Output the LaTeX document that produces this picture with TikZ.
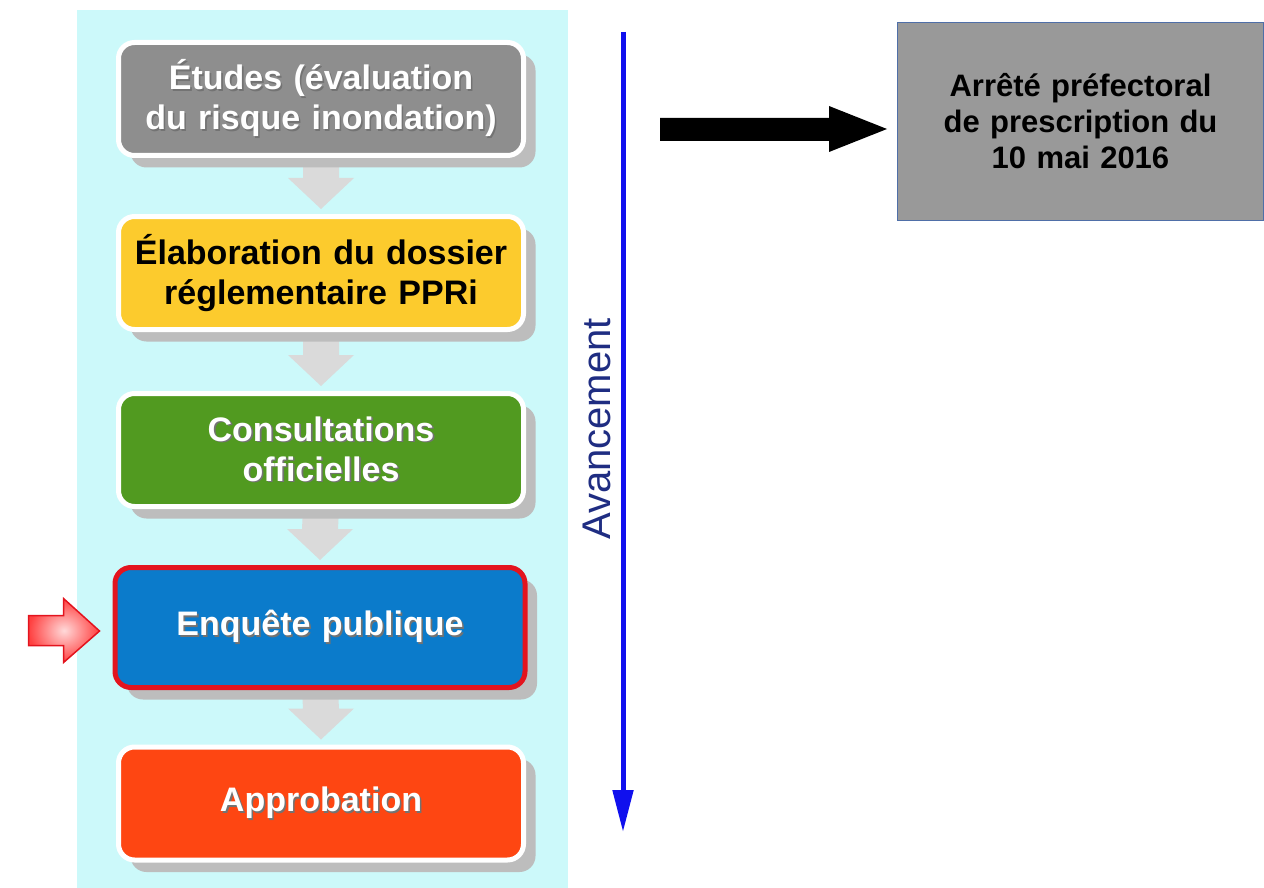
\documentclass[tikz,border=0pt]{standalone}
\usepackage{fontspec}
\setmainfont{Liberation Sans}
\usetikzlibrary{calc,shadows,arrows.meta}
\definecolor{panel}{HTML}{CCF9FA}
\definecolor{shadowgray}{HTML}{BDBDBD}
\definecolor{arrgray}{HTML}{DADADA}
\definecolor{cgray}{HTML}{8E8E8E}
\definecolor{cyellow}{HTML}{FCCB2D}
\definecolor{cgreen}{HTML}{519A20}
\definecolor{cblue}{HTML}{0B7BCB}
\definecolor{cred}{HTML}{E3141E}
\definecolor{corange}{HTML}{FE4612}
\definecolor{rbox}{HTML}{999999}
\definecolor{rboxline}{HTML}{4F6FA8}
\definecolor{bline}{HTML}{1010EE}
\definecolor{navy}{HTML}{1F2D82}
\newcommand\shtxt[1]{\leavevmode\rlap{\kern1.6pt\raisebox{-1.6pt}{\color{black!55}#1}}#1}
\pgfdeclarelayer{bg}
\pgfsetlayers{bg,main}
\begin{document}
\begin{tikzpicture}[x=1pt,y=-1pt,
  stepbox/.style={rounded corners=16pt, minimum width=405pt, minimum height=113pt,
    line width=5pt, draw=white, text width=400pt, align=center, inner sep=0pt,
    font=\bfseries\fontsize{34}{40}\selectfont,
    drop shadow={shadow xshift=12pt, shadow yshift=-12pt, fill=shadowgray, opacity=1}},
  downarr/.style={fill=arrgray},
  rightbox/.style={draw=rboxline, line width=1pt, fill=rbox, minimum width=366pt,
    minimum height=198pt, text width=340pt, align=center, inner sep=0pt,
    font=\bfseries\fontsize{31}{36}\selectfont},
  progline/.style={draw=bline, line width=5pt, -{Triangle[width=20pt,length=42pt]}},
  proglabel/.style={text=navy, font=\fontsize{40}{44}\selectfont, rotate=90, inner sep=0pt}
]
\useasboundingbox (0,0) rectangle (1264,888);
\begin{pgfonlayer}{bg}
\fill[panel] (77,10) rectangle (568,888);
\end{pgfonlayer}

\node[stepbox, fill=cgray, text=white] (b1) at (321,99)
  {\shtxt{Études (évaluation}\\\shtxt{du risque inondation)}};
\node[stepbox, fill=cyellow, text=black] (b2) at (321,273)
  {Élaboration du dossier\\réglementaire PPRi};
\node[stepbox, fill=cgreen, text=white] (b3) at (321,450)
  {\shtxt{Consultations}\\\shtxt{officielles}};
\node[stepbox, fill=cblue, draw=cred, text=white, minimum height=120pt, minimum width=410pt] (b4) at (320,627.5)
  {\shtxt{Enquête publique}};
\node[stepbox, fill=corange, text=white] (b5) at (321,803.5)
  {\shtxt{Approbation}};

\begin{pgfonlayer}{bg}
\foreach \a/\b in {b1/b2,b2/b3,b3/b4,b4/b5}{
  \fill[downarr] ($(\a.south)+(-18,0)$) -- ($(\b.north)+(-18,-36)$) -- ($(\b.north)+(-33,-36)$)
    -- ($(\b.north)+(0,-5)$) -- ($(\b.north)+(33,-36)$) -- ($(\b.north)+(18,-36)$)
    -- ($(\a.south)+(18,0)$) -- cycle;
}
\end{pgfonlayer}

% red pointer arrow
\shadedraw[draw=cred, line width=1.5pt, inner color=red!15!white, outer color=red!75!white]
  ($(b4.west)+(-84,-12)$) -- ($(b4.west)+(-49,-12)$) -- ($(b4.west)+(-49,-29)$)
  -- ($(b4.west)+(-13,3.5)$) -- ($(b4.west)+(-49,35)$) -- ($(b4.west)+(-49,18)$)
  -- ($(b4.west)+(-84,18)$) -- cycle;

% progress line
\coordinate (ltop) at (623,32);
\coordinate (lbot) at (623,832);
\draw[progline] (ltop) -- (lbot);
\node[proglabel] (avc) at (597,429) {Avancement};

% right box
\node[rightbox] (r) at (1080.5,121.5)
  {Arrêté préfectoral\\de prescription du\\10 mai 2016};

% black arrow
\fill[black] ($(r.west)+(-237,-3.5)$) -- ($(r.west)+(-68,-3.5)$) -- ($(r.west)+(-68,-15.5)$)
  -- ($(r.west)+(-10,7.5)$) -- ($(r.west)+(-68,30.5)$) -- ($(r.west)+(-68,19.5)$)
  -- ($(r.west)+(-237,19.5)$) -- cycle;
\end{tikzpicture}
\end{document}
